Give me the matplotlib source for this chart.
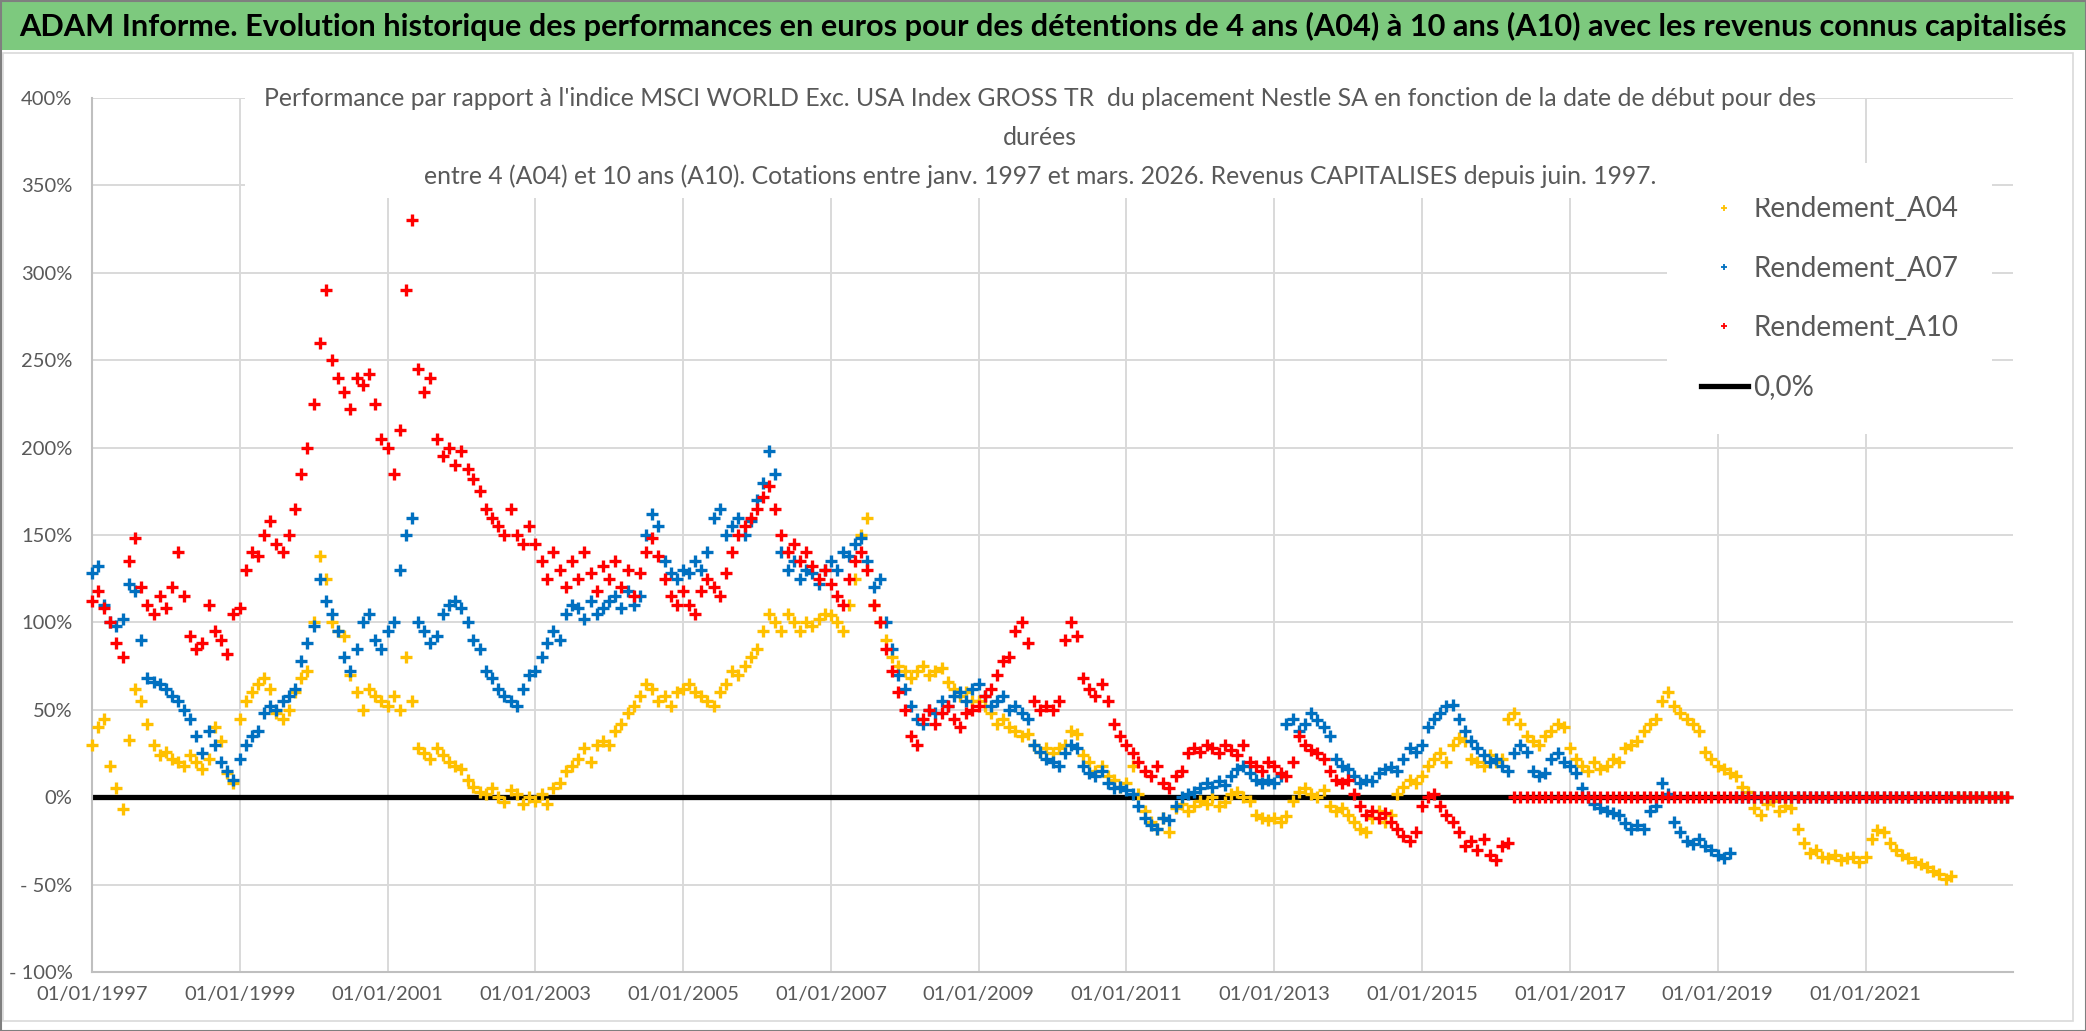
import datetime as dt
import matplotlib
matplotlib.use("Agg")
import matplotlib.pyplot as plt
import matplotlib.dates as mdates
from matplotlib.lines import Line2D
from matplotlib.patches import Rectangle
from matplotlib.ticker import FixedLocator, FuncFormatter
import pandas as pd

plt.rcParams['font.family'] = ['Liberation Sans Narrow', 'Lato', 'DejaVu Sans']

# monthly start dates from 01/1997, one row per year (values in %)
a04 = [
    30, 40, 45, 18, 5, -7, 33, 62, 55, 42, 30, 24,          # 1997
    26, 22, 20, 18, 24, 20, 16, 22, 40, 32, 14, 8,          # 1998
    45, 55, 60, 65, 68, 62, 48, 45, 50, 60, 68, 72,         # 1999
    100, 138, 125, 100, 95, 92, 70, 60, 50, 62, 58, 55,     # 2000
    52, 58, 50, 80, 55, 28, 25, 22, 28, 24, 20, 18,         # 2001
    16, 10, 6, 3, 2, 5, 0, -3, 4, 2, -4, 0,                 # 2002
    -2, 2, -4, 5, 8, 15, 18, 22, 28, 20, 30, 32,            # 2003
    30, 38, 42, 48, 52, 58, 65, 62, 55, 58, 52, 60,         # 2004
    62, 65, 60, 58, 55, 52, 60, 65, 72, 70, 75, 80,         # 2005
    85, 95, 105, 100, 95, 105, 100, 95, 100, 98, 102, 105,  # 2006
    104, 100, 95, 110, 125, 150, 160, 110, 100, 90, 80, 75, # 2007
    72, 68, 72, 75, 70, 72, 74, 66, 62, 58, 60, 55,         # 2008
    55, 52, 48, 42, 45, 40, 38, 35, 36, 30, 26, 28,         # 2009
    25, 28, 30, 38, 36, 24, 20, 15, 18, 12, 10, 6,          # 2010
    8, 18, 2, -8, -14, -18, -12, -20, -6, -4, -8, -5,       # 2011
    -2, -4, 0, -5, -3, 2, 3, 0, -2, -10, -12, -13,          # 2012
    -12, -14, -11, -2, 3, 5, 2, 0, 4, -5, -8, -6,           # 2013
    -10, -14, -18, -20, -12, -8, -14, -10, 2, 6, 10, 8,     # 2014
    12, 18, 22, 25, 20, 30, 34, 32, 22, 20, 18, 24,         # 2015
    20, 22, 45, 48, 42, 35, 32, 30, 35, 38, 42, 40,         # 2016
    28, 22, 18, 15, 20, 16, 18, 22, 20, 28, 30, 32,         # 2017
    38, 42, 45, 55, 60, 52, 48, 45, 42, 38, 26, 22,         # 2018
    18, 16, 14, 12, 6, 3, -6, -10, -4, -2, -8, -5,          # 2019
    -6, -18, -26, -32, -30, -34, -35, -33, -36, -35, -34, -37,  # 2020
    -34, -24, -19, -20, -26, -30, -33, -35, -37, -38, -40, -42,  # 2021
    -44, -47, -45, 0, 0, 0, 0, 0, 0, 0, 0, 0,               # 2022
]

a07 = [
    128, 132, 110, 100, 98, 102, 122, 118, 90, 68, 66, 65,  # 1997
    62, 58, 55, 50, 45, 35, 25, 38, 30, 20, 15, 10,         # 1998
    22, 30, 35, 38, 48, 52, 50, 55, 58, 62, 78, 88,         # 1999
    98, 125, 112, 105, 95, 80, 72, 85, 100, 105, 90, 85,    # 2000
    95, 100, 130, 150, 160, 100, 95, 88, 92, 105, 110, 112, # 2001
    108, 100, 90, 85, 72, 68, 62, 58, 55, 52, 62, 70,       # 2002
    72, 80, 88, 95, 90, 105, 110, 108, 102, 112, 105, 108,  # 2003
    112, 115, 108, 118, 110, 115, 150, 162, 155, 135, 128, 125,  # 2004
    130, 128, 135, 130, 140, 160, 165, 150, 155, 160, 150, 158,  # 2005
    170, 180, 198, 185, 140, 130, 135, 125, 130, 128, 122, 130,  # 2006
    135, 130, 140, 138, 145, 148, 135, 120, 125, 100, 85, 70,    # 2007
    62, 52, 45, 42, 50, 48, 55, 52, 58, 60, 55, 62,         # 2008
    65, 58, 52, 55, 58, 50, 52, 48, 45, 30, 26, 22,         # 2009
    20, 18, 25, 30, 28, 18, 14, 12, 15, 8, 5, 6,            # 2010
    4, 2, -5, -12, -16, -18, -12, -13, -5, 0, 2, 3,         # 2011
    5, 8, 6, 9, 7, 12, 16, 18, 14, 10, 8, 10,               # 2012
    8, 12, 42, 45, 38, 42, 48, 44, 40, 35, 22, 18,          # 2013
    16, 12, 8, 10, 9, 14, 16, 17, 15, 22, 28, 26,           # 2014
    30, 40, 45, 48, 52, 53, 45, 38, 32, 28, 24, 20,         # 2015
    22, 18, 15, 25, 30, 26, 15, 12, 14, 22, 25, 20,         # 2016
    18, 14, 5, 0, -4, -6, -8, -9, -10, -15, -18, -16,       # 2017
    -18, -8, -5, 8, 2, -14, -20, -25, -27, -24, -28, -30,   # 2018
    -33, -35, -32, 0, 0, 0, 0, 0, 0, 0, 0, 0,               # 2019
    0, 0, 0, 0, 0, 0, 0, 0, 0, 0, 0, 0,                     # 2020
    0, 0, 0, 0, 0, 0, 0, 0, 0, 0, 0, 0,                     # 2021
    0, 0, 0, 0, 0, 0, 0, 0, 0, 0, 0, 0,                     # 2022
]

a10 = [
    112, 118, 108, 100, 88, 80, 135, 148, 120, 110, 105, 115,    # 1997
    108, 120, 140, 115, 92, 85, 88, 110, 95, 90, 82, 105,        # 1998
    108, 130, 140, 138, 150, 158, 145, 140, 150, 165, 185, 200,  # 1999
    225, 260, 290, 250, 240, 232, 222, 240, 236, 242, 225, 205,  # 2000
    200, 185, 210, 290, 330, 245, 232, 240, 205, 195, 200, 190,  # 2001
    198, 188, 182, 175, 165, 160, 155, 150, 165, 150, 145, 155,  # 2002
    145, 135, 125, 140, 130, 120, 135, 125, 140, 128, 118, 132,  # 2003
    125, 135, 120, 130, 115, 128, 140, 148, 138, 125, 115, 110,  # 2004
    118, 110, 105, 118, 125, 120, 115, 128, 140, 150, 155, 160,  # 2005
    165, 172, 178, 165, 150, 140, 145, 135, 140, 132, 125, 130,  # 2006
    122, 115, 110, 125, 135, 140, 130, 110, 100, 85, 72, 60,     # 2007
    50, 35, 30, 45, 50, 42, 48, 52, 45, 40, 48, 50,              # 2008
    52, 58, 62, 70, 78, 80, 95, 100, 88, 55, 50, 52,             # 2009
    50, 55, 90, 100, 92, 68, 62, 58, 65, 55, 42, 35,             # 2010
    30, 25, 20, 15, 12, 18, 8, 5, 12, 15, 25, 28,                # 2011
    26, 30, 28, 25, 30, 27, 24, 30, 20, 18, 15, 20,              # 2012
    18, 14, 12, 20, 35, 30, 27, 25, 22, 15, 10, 8,               # 2013
    10, 2, -5, -10, -8, -12, -9, -14, -18, -22, -25, -20,        # 2014
    -5, 0, 2, -5, -10, -14, -20, -28, -25, -30, -24, -33,        # 2015
    -36, -28, -26, 0, 0, 0, 0, 0, 0, 0, 0, 0,                    # 2016
    0, 0, 0, 0, 0, 0, 0, 0, 0, 0, 0, 0,                          # 2017
    0, 0, 0, 0, 0, 0, 0, 0, 0, 0, 0, 0,                          # 2018
    0, 0, 0, 0, 0, 0, 0, 0, 0, 0, 0, 0,                          # 2019
    0, 0, 0, 0, 0, 0, 0, 0, 0, 0, 0, 0,                          # 2020
    0, 0, 0, 0, 0, 0, 0, 0, 0, 0, 0, 0,                          # 2021
    0, 0, 0, 0, 0, 0, 0, 0, 0, 0, 0, 0,                          # 2022
]

series_names = ["Rendement_A04", "Rendement_A07", "Rendement_A10"]
zero_name = "0,0%"
tick_years = [1997, 1999, 2001, 2003, 2005, 2007, 2009, 2011, 2013, 2015, 2017, 2019, 2021]
y_ticks = [-100, -50, 0, 50, 100, 150, 200, 250, 300, 350, 400]

title = ("ADAM Informe. Evolution historique des performances en euros pour des détentions "
         "de 4 ans (A04) à 10 ans (A10) avec les revenus connus capitalisés")
sub1 = ("Performance par rapport à l'indice MSCI WORLD Exc. USA Index GROSS TR  du placement "
        "Nestle SA en fonction de la date de début pour des")
sub2 = "durées"
sub3 = ("entre 4 (A04) et 10 ans (A10). Cotations entre janv. 1997 et mars. 2026. "
        "Revenus CAPITALISES depuis juin. 1997.")

colors = ["#FFC000", "#0070C0", "#FF0000"]
grey_txt = "#595959"

dates = pd.date_range("1997-01-01", periods=len(a04), freq="MS")

W, H = 2086, 1031
fig = plt.figure(figsize=(W / 100, H / 100), dpi=100)
ax = fig.add_axes([92 / W, 59 / H, 1921 / W, 874 / H])

ax.plot([dates[0], dates[-1]], [0, 0], color="black", lw=3.8,
        solid_capstyle="round", zorder=2)
for vals, c in zip([a04, a07, a10], colors):
    ax.plot(dates, vals, linestyle="none", marker="+", ms=8.5, mew=2.4,
            color=c, zorder=3, clip_on=False)

ax.set_ylim(-100, 400)
ax.set_xlim(dt.datetime(1997, 1, 1), dt.datetime(2022, 12, 31))
ax.yaxis.set_major_locator(FixedLocator(y_ticks))
ax.yaxis.set_major_formatter(FuncFormatter(
    lambda v, p: f"{v:.0f}%" if v >= 0 else f"- {abs(v):.0f}%"))
ax.xaxis.set_major_locator(FixedLocator(
    [mdates.date2num(dt.datetime(y, 1, 1)) for y in tick_years]))
ax.xaxis.set_major_formatter(mdates.DateFormatter("%d/%m/%Y"))

ax.set_axisbelow(True)
ax.grid(color="#D9D9D9", linewidth=1.4)
for s in ["top", "right"]:
    ax.spines[s].set_visible(False)
for s in ["left", "bottom"]:
    ax.spines[s].set_color("#BFBFBF")
    ax.spines[s].set_linewidth(1.5)
ax.tick_params(axis="both", length=0, labelsize=14.5, labelcolor=grey_txt)
ax.tick_params(axis="y", pad=14)
ax.tick_params(axis="x", pad=10)

handles = [Line2D([], [], ls="none", marker="+", ms=4.5, mew=1.3, color=c) for c in colors]
handles.append(Line2D([], [], color="black", lw=3.8))
leg = ax.legend(handles, series_names + [zero_name], loc="upper left",
                bbox_to_anchor=(0.82, 0.9256), fontsize=20, frameon=True,
                facecolor="white", edgecolor="none", framealpha=1, fancybox=False,
                handlelength=1.7, handletextpad=0.2, labelspacing=1.2,
                borderpad=1.2, borderaxespad=0)
for t in leg.get_texts():
    t.set_color(grey_txt)

# header band, frames, title box
fig.patches.append(Rectangle((0, 1 - 50 / H), 1, 50 / H, transform=fig.transFigure,
                             facecolor="#7DC97E", edgecolor="none", zorder=0))
fig.patches.append(Rectangle((3 / W, 10 / H), 2070 / W, (H - 63) / H,
                             transform=fig.transFigure, facecolor="none",
                             edgecolor="#D9D9D9", lw=1.2, zorder=0))
fig.patches.append(Rectangle((0.5 / W, 0.5 / H), (W - 1) / W, (H - 1) / H,
                             transform=fig.transFigure, facecolor="none",
                             edgecolor="#7F7F7F", lw=1.5, zorder=0))
fig.patches.append(Rectangle((245 / W, 1 - 198 / H), 1565 / W, 113 / H,
                             transform=fig.transFigure, facecolor="white",
                             edgecolor="none", zorder=1.5))

t_title = fig.text(0.5, 1 - 26 / H, title, ha="center", va="center",
                   fontsize=24, fontweight="bold", color="black", zorder=3)
cx = 1040 / W
t1 = fig.text(cx, 1 - 99 / H, sub1, ha="center", va="center", fontsize=20, color=grey_txt, zorder=3)
t2 = fig.text(cx, 1 - 137 / H, sub2, ha="center", va="center", fontsize=20, color=grey_txt, zorder=3)
t3 = fig.text(cx, 1 - 176 / H, sub3, ha="center", va="center", fontsize=20, color=grey_txt, zorder=3)

# fit the long texts to the widths seen in the reference
fig.canvas.draw()
r = fig.canvas.get_renderer()
w = t_title.get_window_extent(r).width
t_title.set_fontsize(t_title.get_fontsize() * 2055 / w)
k = 1551 / t1.get_window_extent(r).width
for t in (t1, t2, t3):
    t.set_fontsize(t.get_fontsize() * k)

fig.savefig("out.png", dpi=100)
